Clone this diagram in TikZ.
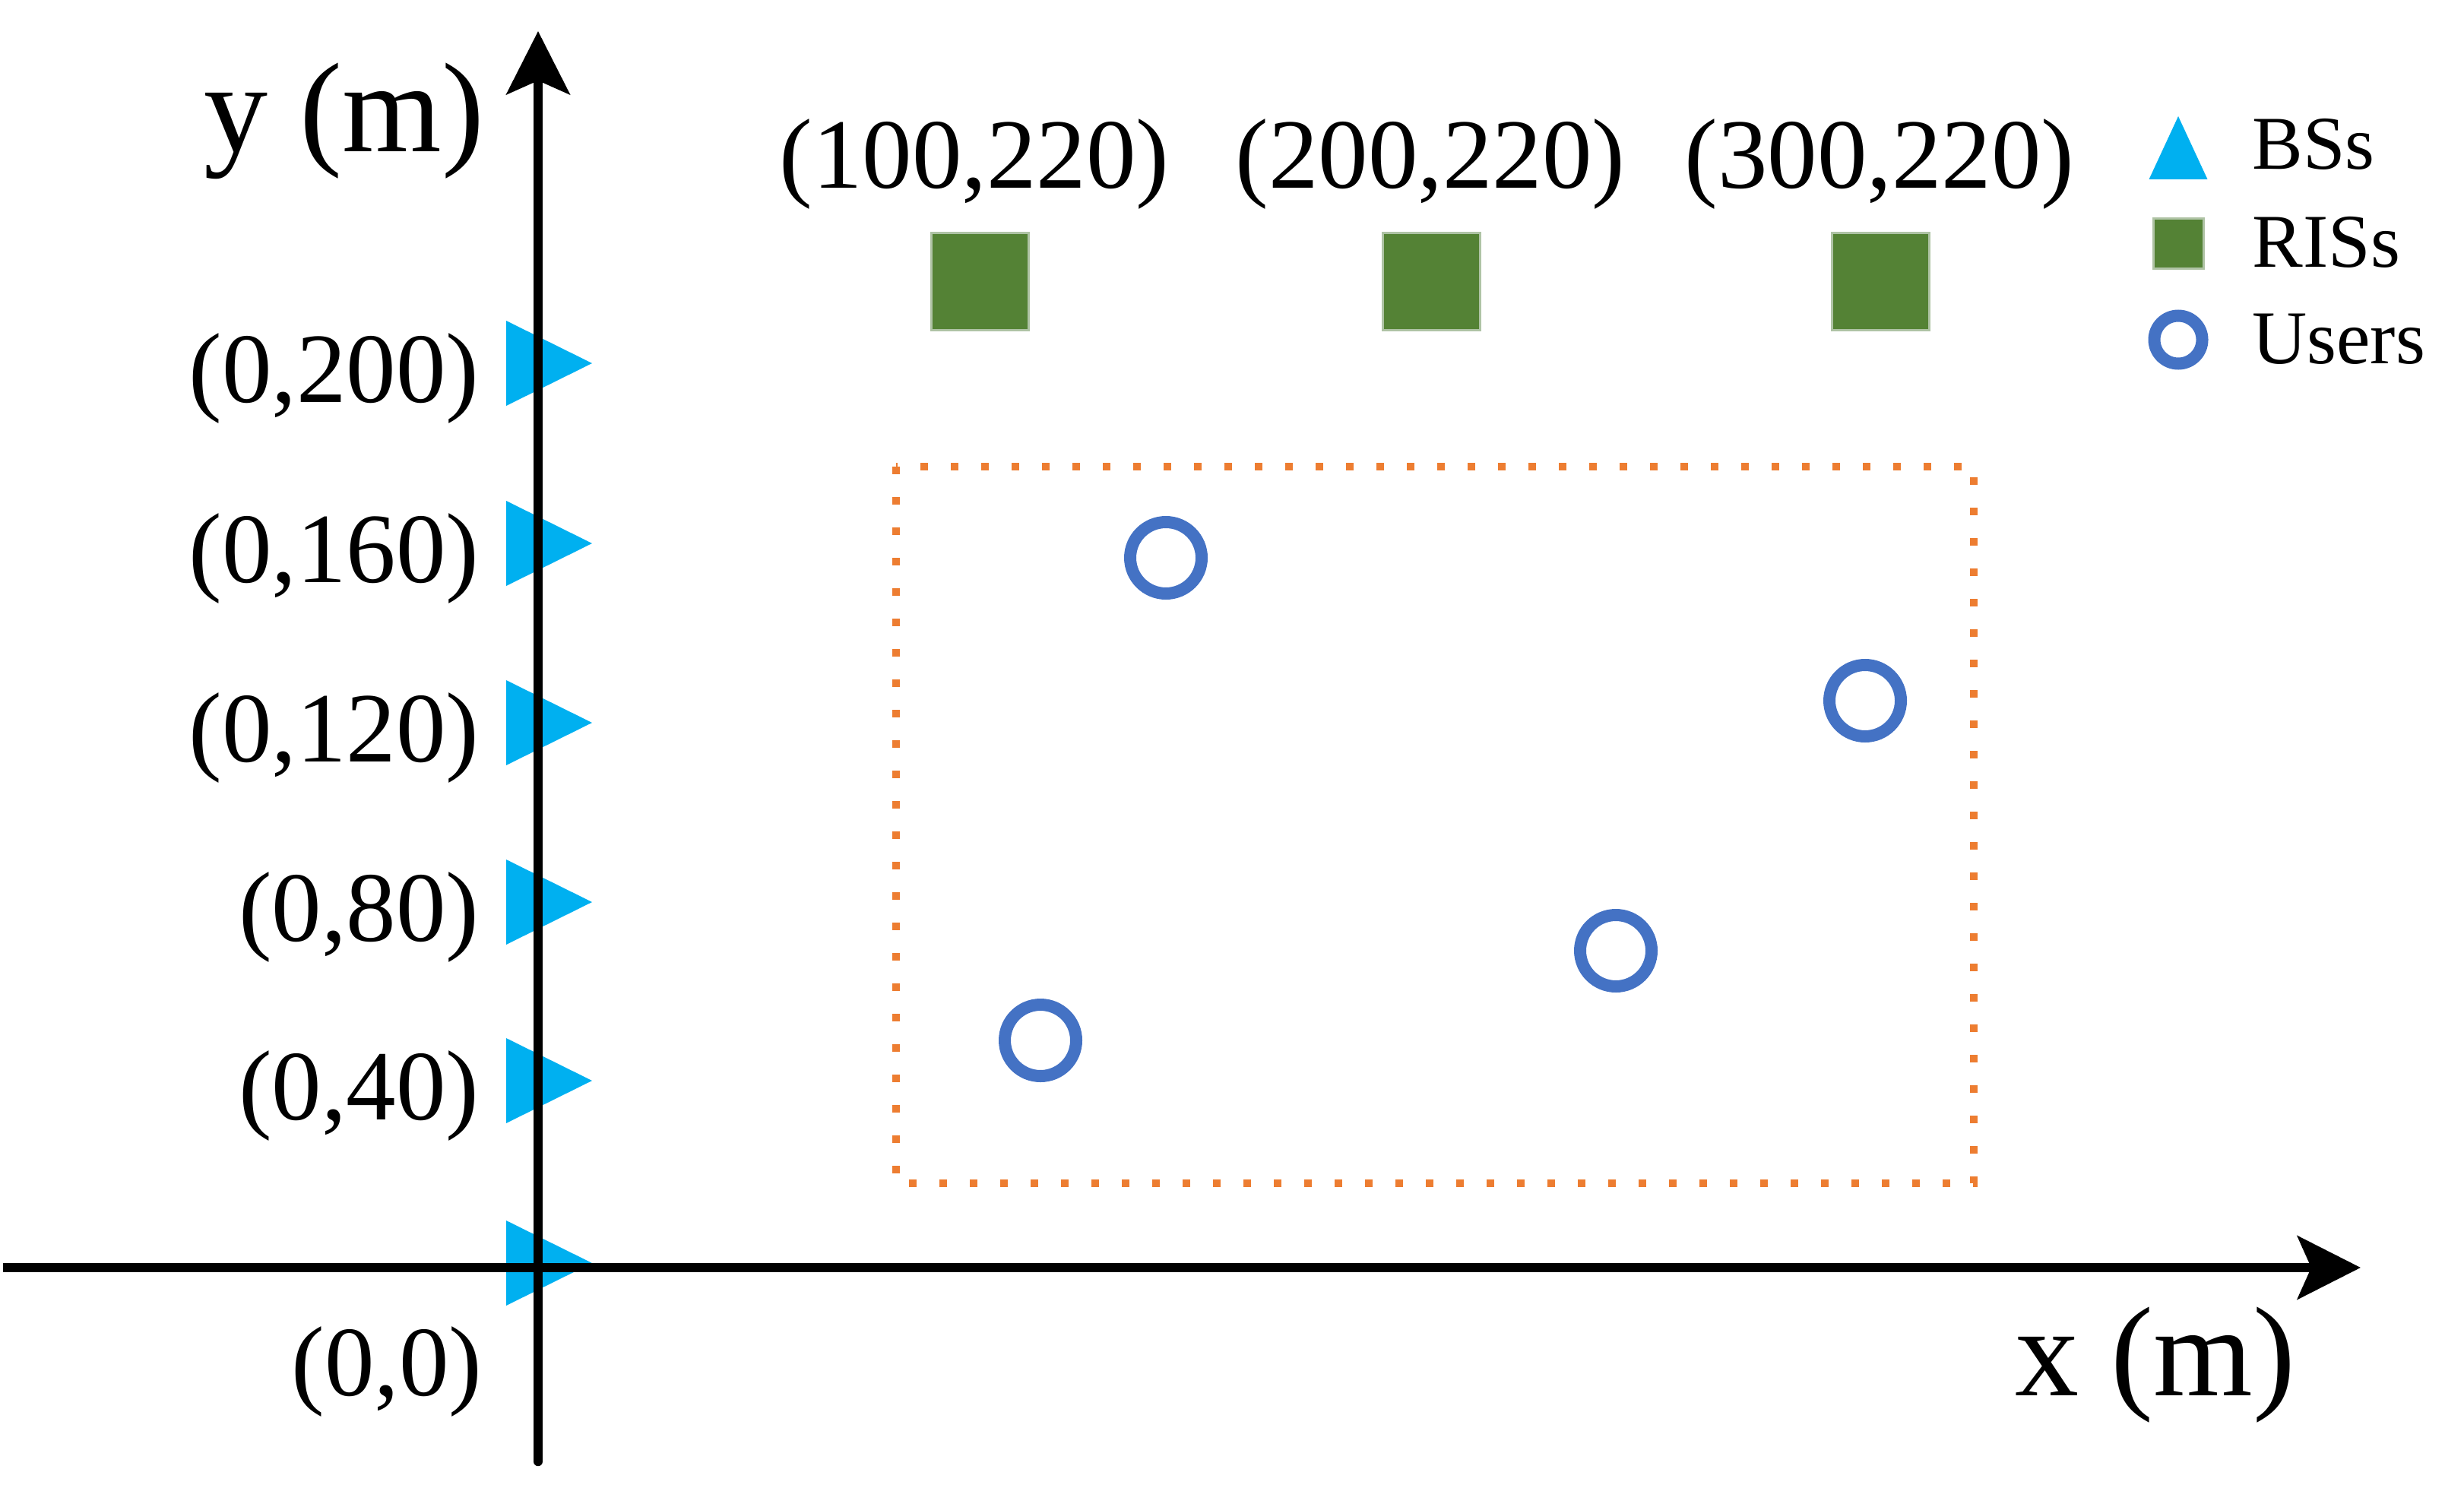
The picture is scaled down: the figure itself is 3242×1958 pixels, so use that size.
\documentclass[tikz,border=0pt]{standalone}
\usepackage{fontspec}
\setmainfont{Liberation Serif}
\usetikzlibrary{arrows.meta,shapes.geometric}
\definecolor{bscol}{RGB}{0,176,240}
\definecolor{riscol}{RGB}{84,130,53}
\definecolor{risedge}{RGB}{175,195,165}
\definecolor{usercol}{RGB}{68,114,196}
\definecolor{areacol}{RGB}{237,125,49}
\begin{document}
\begin{tikzpicture}[x=0.5pt,y=-0.5pt,
  axisline/.style={line width=6.2pt,-{Stealth[length=41.5pt,width=41.5pt,inset=9pt]}},
  bs/.style={isosceles triangle, isosceles triangle stretches, fill=bscol,
    inner sep=0pt, outer sep=0pt, minimum width=56pt, minimum height=56.5pt, anchor=apex},
  ris/.style={rectangle, fill=riscol, draw=risedge, line width=1.5pt,
    inner sep=0pt, outer sep=0pt, minimum size=#1},
  ris/.default=64pt,
  user/.style={circle, draw=usercol, line width=8pt, inner sep=0pt, minimum size=#1},
  user/.default=47pt,
  lab/.style={inner sep=0pt, font=\fontsize{65.5pt}{78pt}\selectfont},
  axlab/.style={inner sep=0pt, font=\fontsize{84pt}{100pt}\selectfont},
  leglab/.style={inner sep=0pt, anchor=base west, font=\fontsize{50pt}{60pt}\selectfont},
  area/.style={draw=areacol, line width=5pt, dash pattern=on 5pt off 15pt}
]
\useasboundingbox (0,0) rectangle (3242,1958);

% service area
\draw[area] (1179,614) rectangle (2597,1557);

% base stations
\node[bs] (bs200) at (779,478) {};
\node[bs] (bs160) at (779,715) {};
\node[bs] (bs120) at (779,951) {};
\node[bs] (bs80)  at (779,1187) {};
\node[bs] (bs40)  at (779,1422) {};
\node[bs] (bs0)   at (779,1662) {};

% axes
\coordinate (xs) at (4,1668);
\coordinate (xe) at (3106,1668);
\coordinate (ys) at (708,1923);
\coordinate (ye) at (708,41);
\draw[axisline] (xs) -- (xe);
\draw[axisline, line cap=round] (ys) -- (ye);

\node[axlab, anchor=base] (ylab) at (453,200) {y (m)};
\node[axlab, anchor=base] (xlab) at (2836,1836) {x (m)};

% BS labels
\node[lab, anchor=base east] (l200) at (631,529) {(0,200)};
\node[lab, anchor=base east] (l160) at (631,766) {(0,160)};
\node[lab, anchor=base east] (l120) at (631,1002) {(0,120)};
\node[lab, anchor=base east] (l80)  at (631,1238) {(0,80)};
\node[lab, anchor=base east] (l40)  at (631,1473) {(0,40)};
\node[lab, anchor=base east] (l0)   at (635,1836) {(0,0)};

% RISs
\node[ris] (ris1) at (1289,370) {};
\node[ris] (ris2) at (1883,370) {};
\node[ris] (ris3) at (2474,370) {};
\node[lab, anchor=base] (r1lab) at (1282,248) {(100,220)};
\node[lab, anchor=base] (r2lab) at (1882,248) {(200,220)};
\node[lab, anchor=base] (r3lab) at (2473,248) {(300,220)};

% users
\node[user] (u1) at (1534,734) {};
\node[user] (u2) at (2454,922) {};
\node[user] (u3) at (2126,1251) {};
\node[user] (u4) at (1369,1369) {};

% legend
\node[isosceles triangle, isosceles triangle stretches, shape border rotate=90,
  fill=bscol, inner sep=0pt, outer sep=0pt, minimum width=38.5pt, minimum height=41.5pt,
  anchor=apex] (legbs) at (2866,153) {};
\node[ris=33pt] (legris) at (2866,320) {};
\node[user=31.5pt] (leguser) at (2866,447) {};
\node[leglab] (legbst) at (2963,223) {BSs};
\node[leglab] (legrist) at (2963,351) {RISs};
\node[leglab] (legusert) at (2963,478) {Users};
\end{tikzpicture}
\end{document}
